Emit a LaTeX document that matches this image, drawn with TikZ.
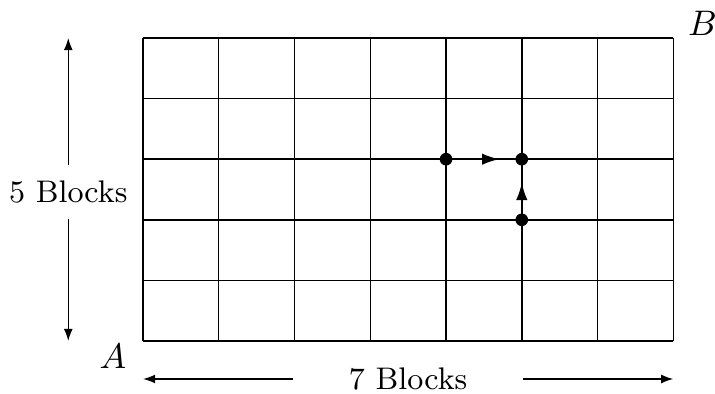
\documentclass[tikz,border=0pt]{standalone}
\usetikzlibrary{arrows.meta,calc}
\begin{document}
\begin{tikzpicture}[
  line width=0.4pt,
  every node/.style={font=\fontsize{8.8}{10}\selectfont},
  endarrow/.style={-{Latex[length=3.4pt,width=2.5pt]}},
  midarrow/.style={-{Latex[length=4.8pt,width=3.2pt]}},
  dot/.style={circle,fill=black,inner sep=0pt,minimum size=0.125cm},
  lbl/.style={inner sep=0pt,font=\fontsize{9.6}{11}\selectfont}
]
\useasboundingbox (-1.416,-0.515) rectangle (5.663,3.376);
% grid
\draw (0,0) grid[xstep=0.75,ystep=0.6] (5.25,3);
% corner labels
\node[lbl] (A) at (-0.297,-0.149) {$A$};
\node[lbl] (B) at (5.54,3.14) {$B$};
% side dimension arrows
\coordinate (ltop) at (-0.74,3);
\coordinate (lbot) at (-0.74,0);
\node[inner xsep=2pt,inner ysep=4.3pt] (five) at (-0.74,1.475) {5 Blocks};
\draw[endarrow] (five.north) -- (ltop);
\draw[endarrow] (five.south) -- (lbot);
\coordinate (bleft) at (0,-0.376);
\coordinate (bright) at (5.25,-0.376);
\node[inner xsep=15.5pt,inner ysep=2pt] (seven) at (2.625,-0.376) {7 Blocks};
\draw[endarrow] (seven.west) -- (bleft);
\draw[endarrow] (seven.east) -- (bright);
% path dots
\node[dot] (p1) at (3,1.8) {};
\node[dot] (p2) at (3.75,1.8) {};
\node[dot] (p3) at (3.75,1.2) {};
\coordinate (htip) at ($(p1.center)!0.70!(p2.center)$);
\coordinate (vtip) at ($(p3.center)!0.607!(p2.center)$);
\draw[midarrow] (p1.center) -- (htip);
\draw[midarrow] (p3.center) -- (vtip);
\end{tikzpicture}
\end{document}
